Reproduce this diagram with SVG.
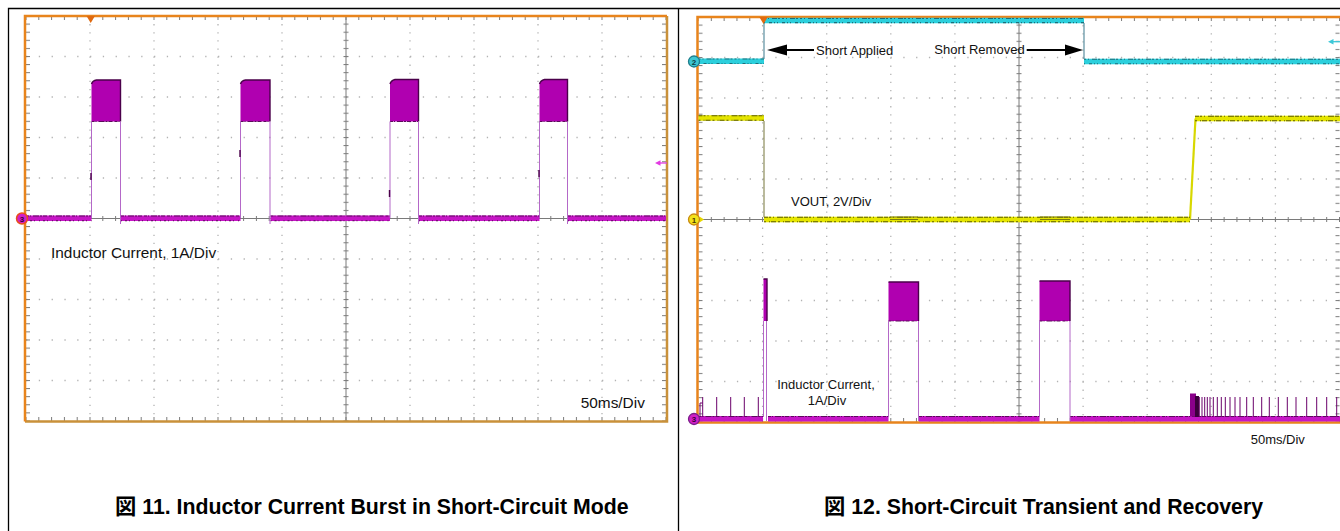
<svg xmlns="http://www.w3.org/2000/svg" width="1340" height="531" viewBox="0 0 1340 531">
<style>
.dv{stroke:#b3b3b3;stroke-width:1.3;stroke-dasharray:1.3 6.8;fill:none}
.dh{stroke:#b3b3b3;stroke-width:1.3;stroke-dasharray:1.3 11.5;fill:none}
.axis{stroke:#7a7a7a;stroke-width:1;fill:none}
.fo{stroke:#E8841C;stroke-width:2.5;fill:none}
.ft{stroke:#C9913A;stroke-width:2.5;fill:none}
.lbl{font-family:"Liberation Sans",Arial,Helvetica,sans-serif;fill:#111}
.cap{font-family:"Liberation Sans",Arial,"Noto Sans CJK JP",sans-serif;font-weight:bold;font-size:21.3px;fill:#000}
.mband{stroke:#C516C5;stroke-width:5.5;fill:none}
.mnoise{stroke:#5C0A5C;stroke-width:1.1;stroke-dasharray:3 1 1 2 6 1 2 1 4 2;fill:none}
.medge{stroke:#B468C8;stroke-width:1;fill:none}
.mfill{fill:#B000B0}
.mdark{stroke:#4A004A;stroke-width:1.4;fill:none}
.cband{stroke:#2CCFDC;stroke-width:5.5;fill:none}
.cnoise{stroke:#1D6E7A;stroke-width:1.1;stroke-dasharray:2 2 1 3 5 1 2 2;fill:none}
.yband{stroke:#E5E500;stroke-width:5.5;fill:none}
.ynoise{stroke:#5E5E00;stroke-width:1.1;stroke-dasharray:4 1 2 2 1 3 6 1;fill:none}
.spk{stroke:#6A006A;stroke-width:1;fill:none}
.mk{font-family:"Liberation Sans",Arial,sans-serif;font-weight:bold;font-size:8px;text-anchor:middle}
.bd{stroke:#000;stroke-width:1.3;fill:none}
</style>
<defs>
<pattern id="txL" x="25.5" y="0" width="12.8" height="10" patternUnits="userSpaceOnUse"><rect x="0" y="0" width="1" height="10" fill="#7a7a7a"/></pattern>
<pattern id="tyL" x="0" y="15.5" width="10" height="8.1" patternUnits="userSpaceOnUse"><rect x="0" y="0" width="10" height="1" fill="#7a7a7a"/></pattern>
<pattern id="txR" x="698" y="0" width="12.82" height="10" patternUnits="userSpaceOnUse"><rect x="0" y="0" width="1" height="10" fill="#7a7a7a"/></pattern>
<pattern id="tyR" x="0" y="16.5" width="10" height="8.1" patternUnits="userSpaceOnUse"><rect x="0" y="0" width="10" height="1" fill="#7a7a7a"/></pattern>
</defs>
<rect x="0" y="0" width="1340" height="531" fill="#fff"/>
<g id="borders">
<path class="bd" d="M8.5,531 V8.5 H1340 M678.5,8.5 V531"/>
</g>

<g id="scope-left">
<g id="grid-left">
<path class="dv" d="M90,16V421 M154,16V421 M218,16V421 M282,16V421 M410,16V421 M474,16V421 M538,16V421 M602,16V421"/>
<path class="dh" d="M26,56.5H666 M26,97H666 M26,137.5H666 M26,178H666 M26,259H666 M26,299.5H666 M26,340H666 M26,380.5H666"/>
<path class="axis" d="M346,16V421 M26,218.5H666"/>
<rect x="343.5" y="16" width="5" height="405" fill="url(#tyL)"/>
<rect x="26" y="216" width="640" height="5" fill="url(#txL)"/>
<rect x="26" y="16" width="4" height="405" fill="url(#tyL)"/>
<rect x="662" y="16" width="4" height="405" fill="url(#tyL)"/>
<rect x="26" y="16" width="640" height="4" fill="url(#txL)"/>
<rect x="26" y="417" width="640" height="4" fill="url(#txL)"/>
</g>
<path class="ft" d="M667,16V421.5H25"/>
<path class="fo" d="M25,421.5V16H667"/>
<g id="trace-left">
<path class="mband" d="M26,218.3H91.5 M121,218.3H240.5 M270.5,218.3H390 M419,218.3H539.5 M568,218.3H666"/>
<path class="mnoise" d="M26,216H91.5 M121,216H240.5 M270.5,216H390 M419,216H539.5 M568,216H666"/>
<path class="mnoise" d="M26,220.8H91.5 M121,220.8H240.5 M270.5,220.8H390 M419,220.8H539.5 M568,220.8H666" style="stroke-dasharray:1 3 2 2 1 4"/>
<path class="mfill" d="M91.5,121.5V84Q92.5,80.5 96.5,80H120.5V121.5Z M240.5,121.5V84Q241.5,80.5 245.5,80H270V121.5Z M390,121.5V84Q391,80.5 395,79.5H418.5V121.5Z M539.5,121.5V84Q540.5,80.5 544.5,79.5H567.5V121.5Z"/>
<path class="mdark" d="M91.5,84Q92.5,80.5 96.5,80H120.5V121.5 M240.5,84Q241.5,80.5 245.5,80H270V121.5 M390,84Q391,80.5 395,79.5H418.5V121.5 M539.5,84Q540.5,80.5 544.5,79.5H567.5V121.5"/>
<path class="mnoise" d="M91.5,121.5H120.5 M240.5,121.5H270 M390,121.5H418.5 M539.5,121.5H567.5"/>
<path class="medge" d="M91.5,121.5V218 M120.5,121.5V224 M240.5,121.5V218 M270,121.5V224 M390,121.5V218 M418.5,121.5V224 M539.5,121.5V218 M567.5,121.5V224"/>
<path class="mdark" d="M91,173V180 M240,150V157 M389.5,190V197 M539,170V177"/>
</g>
<g id="markers-left">
<polygon points="86.5,16 95,16 90.7,23" fill="#E06A10"/>
<circle cx="22" cy="218.5" r="5.5" fill="#D11FC8" stroke="#E8501A" stroke-width="1.5"/>
<text class="mk" x="22" y="221.5" fill="#3A003A">3</text>
<path d="M660,163H667" stroke="#E23BE2" stroke-width="1.3"/>
<polygon points="655,163 660.5,160.3 660.5,165.7" fill="#E23BE2"/>
</g>
<text class="lbl" x="51" y="257.5" font-size="15.4">Inductor Current, 1A/Div</text>
<text class="lbl" x="580.7" y="408" font-size="15.4">50ms/Div</text>
</g>

<g id="scope-right">
<g id="grid-right">
<path class="dv" d="M762.6,17V422 M826.7,17V422 M890.8,17V422 M954.9,17V422 M1083.1,17V422 M1147.2,17V422 M1211.3,17V422 M1275.4,17V422"/>
<path class="dh" d="M698.5,57.5H1340 M698.5,98H1340 M698.5,138.5H1340 M698.5,179H1340 M698.5,260H1340 M698.5,300.5H1340 M698.5,341H1340 M698.5,381.5H1340"/>
<path class="axis" d="M1019,17V422 M698.5,219.5H1340"/>
<rect x="1016.5" y="17" width="5" height="405" fill="url(#tyR)"/>
<rect x="698.5" y="217" width="642" height="5" fill="url(#txR)"/>
<rect x="698.5" y="17" width="4" height="405" fill="url(#tyR)"/>
<rect x="1335.5" y="17" width="4" height="405" fill="url(#tyR)"/>
<rect x="698.5" y="17" width="642" height="4" fill="url(#txR)"/>
<rect x="698.5" y="418" width="642" height="4" fill="url(#txR)"/>
</g>
<path class="fo" d="M1340,422.5H697.5V17H1340"/>
<g id="trace-cyan">
<path d="M764,23V59 M1084,23V59" stroke="#5C8FA0" stroke-width="1.2" fill="none"/>
<path class="cband" d="M698.5,61.3H764 M764,20.5H1084 M1084,61.5H1340"/>
<path class="cnoise" d="M698.5,59H764 M764,18.5H1084 M1084,59.2H1340"/>
<path class="cnoise" d="M698.5,63.5H764 M764,22.6H1084 M1084,63.7H1340" style="stroke-dasharray:1 4 3 2 1 2"/>
</g>
<g id="trace-yellow">
<path d="M764,121V217" stroke="#8C8C5A" stroke-width="1.2" fill="none"/>
<path class="yband" d="M698.5,118H764 M764,219.5H1190 M1195,118.5H1340"/>
<path d="M1190,219.5L1195.5,118.5" stroke="#D8D800" stroke-width="2.2" fill="none"/>
<path class="ynoise" d="M698.5,115.8H764 M764,217.3H1190 M1195,116.3H1340"/>
<path class="ynoise" d="M698.5,120.3H764 M764,221.8H1190 M1195,120.8H1340" style="stroke-dasharray:2 3 1 1 5 2"/>
<path d="M890,217H918 M1040,217H1070 M890,219.5H918 M1040,219.5H1070" stroke="#7A7A10" stroke-width="1" fill="none"/>
</g>
<g id="trace-magenta-right">
<path class="mband" d="M698.5,418.7H763 M768,418.7H888.5 M919,418.7H1039.5 M1070,418.7H1340"/>
<path class="mnoise" d="M698.5,416.5H763 M768,416.5H888.5 M919,416.5H1039.5 M1070,416.5H1340"/>
<path class="mfill" d="M763.5,321V279H767V321Z M888.5,321V282H918.5V321Z M1039.5,321V281H1070V321Z"/>
<path class="mdark" d="M763.5,279H767V321 M888.5,282H918.5V321 M1039.5,281H1070V321"/>
<path class="mnoise" d="M888.5,321H918.5 M1039.5,321H1070"/>
<path class="medge" d="M763.5,321V417 M766.5,321V421 M888.5,321V417 M918.5,321V421 M1039.5,321V417 M1070,321V421"/>
<path class="spk" d="M700,403V417 M700,403H702.7 M702.7,397V417 M716.7,397V417 M730.7,397V417 M744.3,397V417 M758.3,397V417"/>
<rect x="1190" y="393.5" width="6" height="23" fill="#8A008A"/>
<rect x="1195" y="396" width="4" height="21" fill="#3A003A"/>
<path class="spk" d="M1199.3,397V417 M1202,397V417 M1204.7,397V417 M1207.3,397V417 M1210,397V417 M1213.3,397V417 M1217.3,397V417 M1221.3,397V417 M1225.3,397V417 M1230,397V417 M1235,397V417 M1240,397V417 M1246.7,397V417 M1253.3,397V417 M1261.7,397V417 M1269.3,397V417 M1278.3,397V417 M1287.3,397V417 M1296,397V417 M1306.7,397V417 M1316.7,397V417 M1326.7,397V417 M1336.7,397V417"/>
</g>
<g id="markers-right">
<polygon points="759.3,17 767.8,17 763.5,24" fill="#E06A10"/>
<circle cx="694" cy="61.5" r="5.5" fill="#3CC6D2" stroke="#1F7E8C" stroke-width="1.3"/>
<text class="mk" x="694" y="64.5" fill="#0D3C44">2</text>
<polygon points="699.5,216.5 704,219.5 699.5,222.5" fill="#E8D800"/>
<circle cx="694" cy="219.5" r="5.5" fill="#F2E21A" stroke="#C88A10" stroke-width="1.3"/>
<text class="mk" x="694" y="222.5" fill="#4A3A00">1</text>
<circle cx="694" cy="419" r="5.5" fill="#D11FC8" stroke="#7A1F8A" stroke-width="1.3"/>
<text class="mk" x="694" y="422" fill="#3A003A">3</text>
<path d="M1333,41.7H1340" stroke="#3CC8D8" stroke-width="1.3"/>
<polygon points="1328,41.7 1333.5,39 1333.5,44.4" fill="#3CC8D8"/>
</g>
<g id="annotations-right">
<path d="M786,50H814 M1026.7,50H1066" stroke="#000" stroke-width="2" fill="none"/>
<polygon points="767,50 787,44.5 787,55.5" fill="#000"/>
<polygon points="1083,50 1065,44.5 1065,55.5" fill="#000"/>
<text class="lbl" x="816" y="55" font-size="13">Short Applied</text>
<text class="lbl" x="934.3" y="53.5" font-size="13">Short Removed</text>
<text class="lbl" x="791" y="206" font-size="13">VOUT, 2V/Div</text>
<text class="lbl" x="826" y="388.5" font-size="13" text-anchor="middle">Inductor Current,</text>
<text class="lbl" x="827" y="404.5" font-size="13" text-anchor="middle">1A/Div</text>
<text class="lbl" x="1250.7" y="444" font-size="13">50ms/Div</text>
</g>
</g>

<g id="captions">
<text class="cap" x="115" y="513.5">図 11. Inductor Current Burst in Short-Circuit Mode</text>
<text class="cap" x="824" y="513.5">図 12. Short-Circuit Transient and Recovery</text>
</g>
</svg>
